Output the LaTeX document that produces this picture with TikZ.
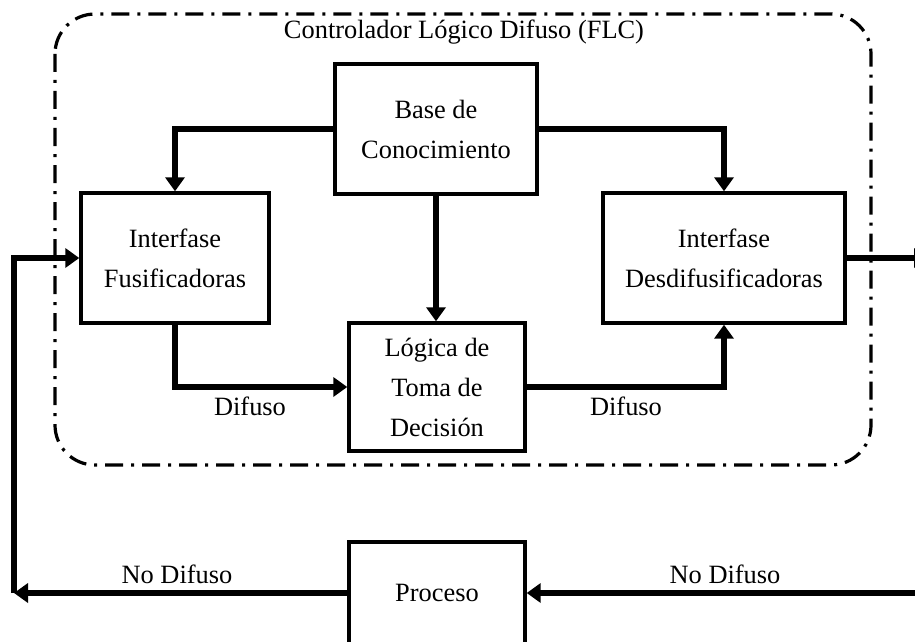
\documentclass[tikz,border=0pt]{standalone}
\usepackage{fontspec}
\setmainfont{Liberation Serif}
\usetikzlibrary{arrows.meta}

\tikzset{
  bloque/.style={draw,line width=1.7pt,inner sep=0pt,align=center,
    font=\fontsize{13.2}{20}\selectfont},
  flecha/.style={line width=2.6pt,-{Triangle[length=7pt,width=9.5pt]}},
  etiqueta/.style={font=\fontsize{13.2}{16}\selectfont}
}

\begin{document}
\begin{tikzpicture}[x=0.5pt,y=-0.5pt]
\path[use as bounding box,clip](0,0) rectangle (915,642);
\fill[white](0,0) rectangle (915,642);
\draw[line width=1.6pt,rounded corners=20pt,dash pattern=on 9pt off 4pt on 1.5pt off 4pt](55,14) rectangle (871,465);
\node[etiqueta] (titulo) at (464,32) {Controlador Lógico Difuso (FLC)};

\node[bloque,minimum width=101pt,minimum height=65pt] (base) at (436,129) {Base de\\Conocimiento};
\node[bloque,minimum width=94pt,minimum height=65pt] (fusif) at (175,258) {Interfase\\Fusificadoras};
\node[bloque,minimum width=121pt,minimum height=65pt] (desdif) at (724,258) {Interfase\\Desdifusificadoras};
\node[bloque,minimum width=88pt,minimum height=64pt] (logica) at (437,387) {Lógica de\\Toma de\\Decisión};
\node[bloque,minimum width=88pt,minimum height=51pt] (proceso) at (437,593) {Proceso};

\draw[flecha](base.west) -| (fusif.north);
\draw[flecha](base.east) -| (desdif.north);
\draw[flecha](base.south) -- (base.south |- logica.north);
\draw[flecha](fusif.south) |- (logica.west);
\draw[flecha](logica.east) -| (desdif.south);

\coordinate (salida) at (928,258);
\coordinate (entrada) at (928,593);
\coordinate (retorno) at (14,593);
\draw[flecha](desdif.east) -- (salida);
\draw[flecha](entrada) -- (proceso.east);
\draw[flecha](proceso.west) -- (retorno);
\draw[flecha](retorno) |- (fusif.west);

\node[etiqueta] (difuso1) at (250,406) {Difuso};
\node[etiqueta] (difuso2) at (626,406) {Difuso};
\node[etiqueta] (nodif1) at (177,574) {No Difuso};
\node[etiqueta] (nodif2) at (725,574) {No Difuso};
\end{tikzpicture}
\end{document}
